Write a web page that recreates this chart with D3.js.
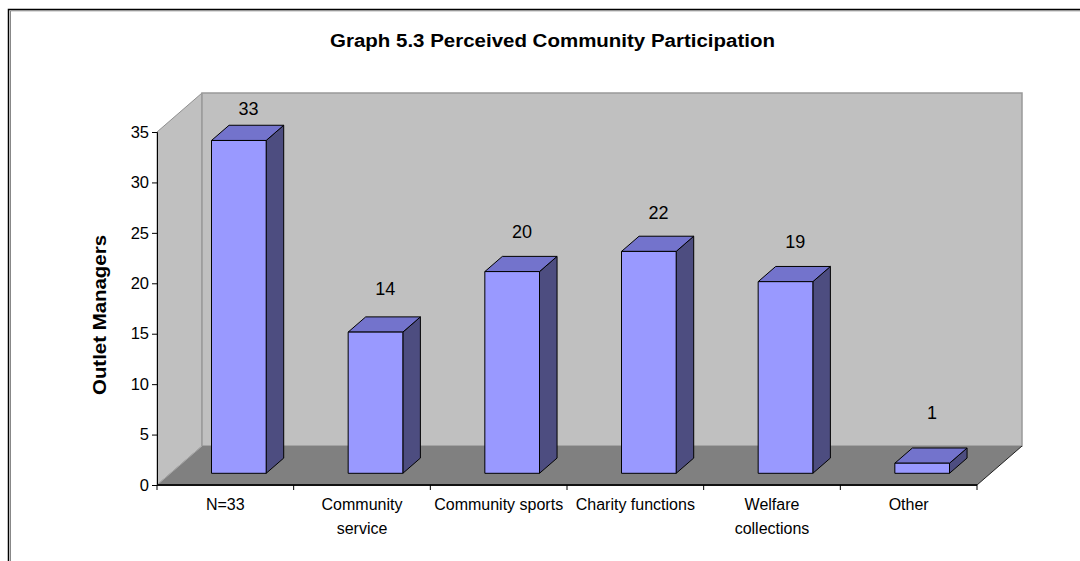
<!DOCTYPE html>
<html>
<head>
<meta charset="utf-8">
<script src="https://cdn.jsdelivr.net/npm/d3@7"></script>
<style>
  html, body { margin: 0; padding: 0; background: #fff; }
  svg { display: block; font-family: Arial, "Liberation Sans", sans-serif; }
</style>
</head>
<body>
<svg id="chart" width="1080" height="561"></svg>
<script>
// ---- data ----
const categories = ["N=33", "Community\nservice", "Community sports", "Charity functions", "Welfare\ncollections", "Other"];
const values = [33, 14, 20, 22, 19, 1];
const yTicks = [0, 5, 10, 15, 20, 25, 30, 35];
const titleText = "Graph 5.3 Perceived Community Participation";
const yTitleText = "Outlet Managers";

const svg = d3.select("#chart");

// outer border
svg.append("rect").attr("x", 8.5).attr("y", 9.5).attr("width", 1200).attr("height", 800)
  .attr("fill", "#fff").attr("stroke", "#000").attr("stroke-width", 1.5);
svg.append("path").attr("d", "M10.5,600 V10.8 H1200").attr("fill", "none")
  .attr("stroke", "#888").attr("stroke-width", 1);

// scales (front plane)
const x = d3.scaleBand().domain(categories).range([157, 977]).paddingInner(0).paddingOuter(0);
const y = d3.scaleLinear().domain([0, 35]).range([485, 132]);
const DX = 45, DY = -39;            // depth of walls
const f0 = 0.3, fd = 0.39;          // bar front position and depth as fraction of total depth
const bx0 = DX * f0, by0 = DY * f0;
const bdx = DX * fd, bdy = DY * fd;
const barW = x.bandwidth() * 0.4;

const x0 = x.range()[0], x1 = x.range()[1];
const yb = y(0), yt = y(35);

// side wall
svg.append("path")
  .attr("d", `M${x0},${yt} L${x0 + DX},${yt + DY} L${x0 + DX},${yb + DY} L${x0},${yb} Z`)
  .attr("fill", "#c0c0c0").attr("stroke", "#909090").attr("stroke-width", 1);
// back wall
svg.append("path")
  .attr("d", `M${x0 + DX},${yt + DY} L${x1 + DX},${yt + DY} L${x1 + DX},${yb + DY} L${x0 + DX},${yb + DY} Z`)
  .attr("fill", "#c0c0c0").attr("stroke", "#999").attr("stroke-width", 1.5);
// floor
svg.append("path")
  .attr("d", `M${x0},${yb} L${x0 + DX},${yb + DY} L${x1 + DX},${yb + DY} L${x1},${yb} Z`)
  .attr("fill", "#808080").attr("stroke", "none");
svg.append("line").attr("x1", x0).attr("y1", yb).attr("x2", x0 + DX).attr("y2", yb + DY)
  .attr("stroke", "#a8a8a8").attr("stroke-width", 1);
svg.append("line").attr("x1", x1).attr("y1", yb).attr("x2", x1 + DX).attr("y2", yb + DY)
  .attr("stroke", "#222").attr("stroke-width", 1);

// bars
const bars = svg.append("g");
const labelY = d3.scaleLinear().domain([1, 33]).range([413, 108.5]);
categories.forEach((c, i) => {
  const v = values[i];
  const L = x(c) + (x.bandwidth() - barW) / 2 + bx0;
  const R = L + barW;
  const B = y(0) + by0;
  const T = y(v) + by0;
  const g = bars.append("g").attr("stroke", "#000").attr("stroke-width", 1).attr("stroke-linejoin", "round");
  g.append("path").attr("d", `M${R},${T} L${R + bdx},${T + bdy} L${R + bdx},${B + bdy} L${R},${B} Z`)
    .attr("fill", "#4d4d80");
  g.append("path").attr("d", `M${L},${T} L${L + bdx},${T + bdy} L${R + bdx},${T + bdy} L${R},${T} Z`)
    .attr("fill", "#7373cc");
  g.append("rect").attr("x", L).attr("y", T).attr("width", barW).attr("height", B - T)
    .attr("fill", "#9999ff");
  svg.append("text").attr("x", (L + R) / 2 + bdx / 2 + 1).attr("y", labelY(v))
    .attr("text-anchor", "middle").attr("dominant-baseline", "central")
    .attr("font-size", 18).attr("fill", "#000").text(v);
});

// y axis
const yAxis = d3.axisLeft(y).tickValues(yTicks).tickSize(5).tickPadding(3).tickFormat(d3.format("d"));
const ya = svg.append("g").attr("transform", `translate(${x0},0)`).call(yAxis);
ya.select(".domain").attr("stroke", "#000").attr("stroke-width", 1);
ya.selectAll(".tick line").attr("stroke", "#000");
ya.selectAll(".tick text").attr("font-size", 16.5).attr("font-family", "Arial, 'Liberation Sans', sans-serif").attr("fill", "#000");

// x axis
svg.append("line").attr("x1", x0).attr("x2", x1).attr("y1", yb).attr("y2", yb)
  .attr("stroke", "#111").attr("stroke-width", 2);
const edges = categories.map(c => x(c)).concat([x1]);
svg.append("g").selectAll("line").data(edges).join("line")
  .attr("x1", d => d).attr("x2", d => d).attr("y1", yb).attr("y2", yb + 5)
  .attr("stroke", "#000").attr("stroke-width", 1);
const xl = svg.append("g").selectAll("text").data(categories).join("text")
  .attr("x", d => x(d) + x.bandwidth() / 2).attr("y", 510)
  .attr("text-anchor", "middle").attr("font-size", 16).attr("fill", "#000");
xl.each(function (d) {
  const t = d3.select(this);
  d.split("\n").forEach((line, k) => {
    t.append("tspan").attr("x", x(d) + x.bandwidth() / 2).attr("dy", k === 0 ? 0 : 24).text(line);
  });
});

// titles
svg.append("text").attr("x", 552.5).attr("y", 47).attr("text-anchor", "middle")
  .attr("font-size", 18).attr("font-weight", "bold").attr("fill", "#000")
  .attr("textLength", 445).attr("lengthAdjust", "spacingAndGlyphs").text(titleText);
svg.append("text").attr("transform", "translate(105.5,315) rotate(-90)").attr("text-anchor", "middle")
  .attr("font-size", 18).attr("font-weight", "bold").attr("fill", "#000")
  .attr("textLength", 160).attr("lengthAdjust", "spacingAndGlyphs").text(yTitleText);
</script>
</body>
</html>
